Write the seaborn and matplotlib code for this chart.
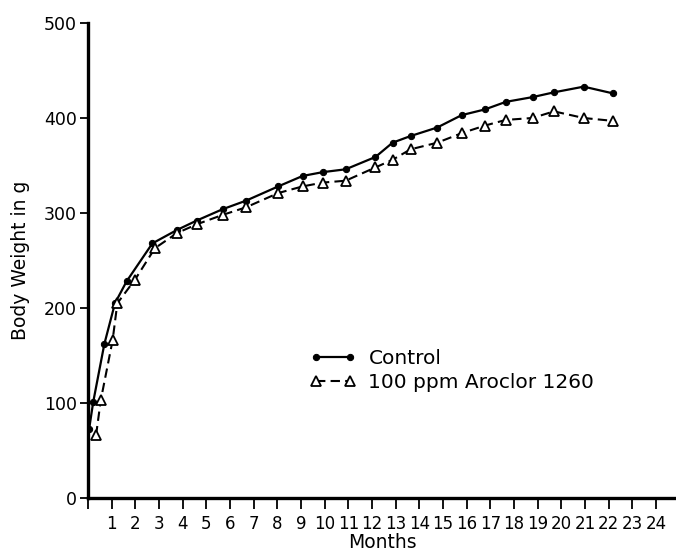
import matplotlib
matplotlib.use("Agg")
import matplotlib.pyplot as plt
import seaborn as sns
import pandas as pd

# Data
control_months = [0.05, 0.22, 0.69, 1.14, 1.63, 2.72, 3.75, 4.59, 5.69, 6.68, 8.04, 9.07,
                  9.92, 10.89, 12.15, 12.87, 13.63, 14.76, 15.79, 16.77, 17.66, 18.79,
                  19.69, 20.95, 22.17]
control_weight = [73, 101, 162, 205, 228, 268, 282, 292, 304, 313, 328, 339,
                  343, 346, 359, 374, 381, 390, 403, 409, 417, 422,
                  427, 433, 426]

aroclor_months = [0.34, 0.54, 1.04, 1.24, 1.99, 2.83, 3.77, 4.59, 5.69, 6.68, 8.04, 9.07,
                  9.92, 10.89, 12.15, 12.87, 13.63, 14.76, 15.79, 16.77, 17.66, 18.79,
                  19.69, 20.95, 22.17]
aroclor_weight = [66, 103, 166, 205, 230, 263, 279, 288, 298, 306, 321, 328,
                  332, 334, 348, 356, 367, 374, 384, 392, 398, 400,
                  407, 400, 397]

series_names = ["Control", "100 ppm Aroclor 1260"]
x_ticks = list(range(0, 25))
x_tick_labels = [""] + [str(i) for i in range(1, 25)]
y_ticks = [0, 100, 200, 300, 400, 500]

sns.set_theme(style="white")
plt.rcParams['font.family'] = ['DejaVu Sans']
plt.rcParams['text.color'] = 'black'
plt.rcParams['axes.labelcolor'] = 'black'

df_c = pd.DataFrame({"month": control_months, "weight": control_weight})
df_a = pd.DataFrame({"month": aroclor_months, "weight": aroclor_weight})

fig = plt.figure(figsize=(6.76, 5.52), dpi=100)
ax = fig.add_axes([88/676, 1 - 498/552, 1 - 88/676, (498 - 23)/552])

sns.lineplot(data=df_c, x="month", y="weight", ax=ax, sort=False, estimator=None,
             color="black", linewidth=1.6, marker="o", markersize=4.5,
             markerfacecolor="black", markeredgecolor="black", label=series_names[0])
sns.lineplot(data=df_a, x="month", y="weight", ax=ax, sort=False, estimator=None,
             color="black", linewidth=1.5, linestyle=(0, (4.5, 2.5)), marker="^", markersize=7.5,
             markerfacecolor="white", markeredgecolor="black", markeredgewidth=1.3,
             label=series_names[1])

ax.set_xlim(0, 24.85)
ax.set_ylim(0, 500)
ax.set_xticks(x_ticks)
ax.set_xticklabels(x_tick_labels)
ax.set_yticks(y_ticks)
ax.set_yticklabels([str(v) for v in y_ticks])

for s in ["top", "right"]:
    ax.spines[s].set_visible(False)
for s in ["left", "bottom"]:
    ax.spines[s].set_linewidth(2.4)
    ax.spines[s].set_color("black")

ax.tick_params(axis="x", direction="out", length=8, width=1.3, colors="black",
               labelsize=12, pad=4, bottom=True)
ax.tick_params(axis="y", direction="out", length=6, width=1.3, colors="black",
               labelsize=12.5, pad=2, left=True)

ax.set_xlabel("Months", fontsize=13.5, color="black", labelpad=0)
ax.set_ylabel("Body Weight in g", fontsize=13.5, color="black", labelpad=10)
ax.grid(False)

leg = ax.legend(loc="upper left", bbox_to_anchor=(310/676, 1 - 349/552),
                bbox_transform=fig.transFigure, frameon=False, fontsize=14.5,
                handlelength=2.3, numpoints=2, borderpad=0, borderaxespad=0,
                handletextpad=0.6, labelspacing=0.25)
for line in leg.get_lines():
    line.set_markersize(4.5 if line.get_marker() == "o" else 6.5)
for t in leg.get_texts():
    t.set_color("black")

fig.savefig("out.png", dpi=100, facecolor="white")
